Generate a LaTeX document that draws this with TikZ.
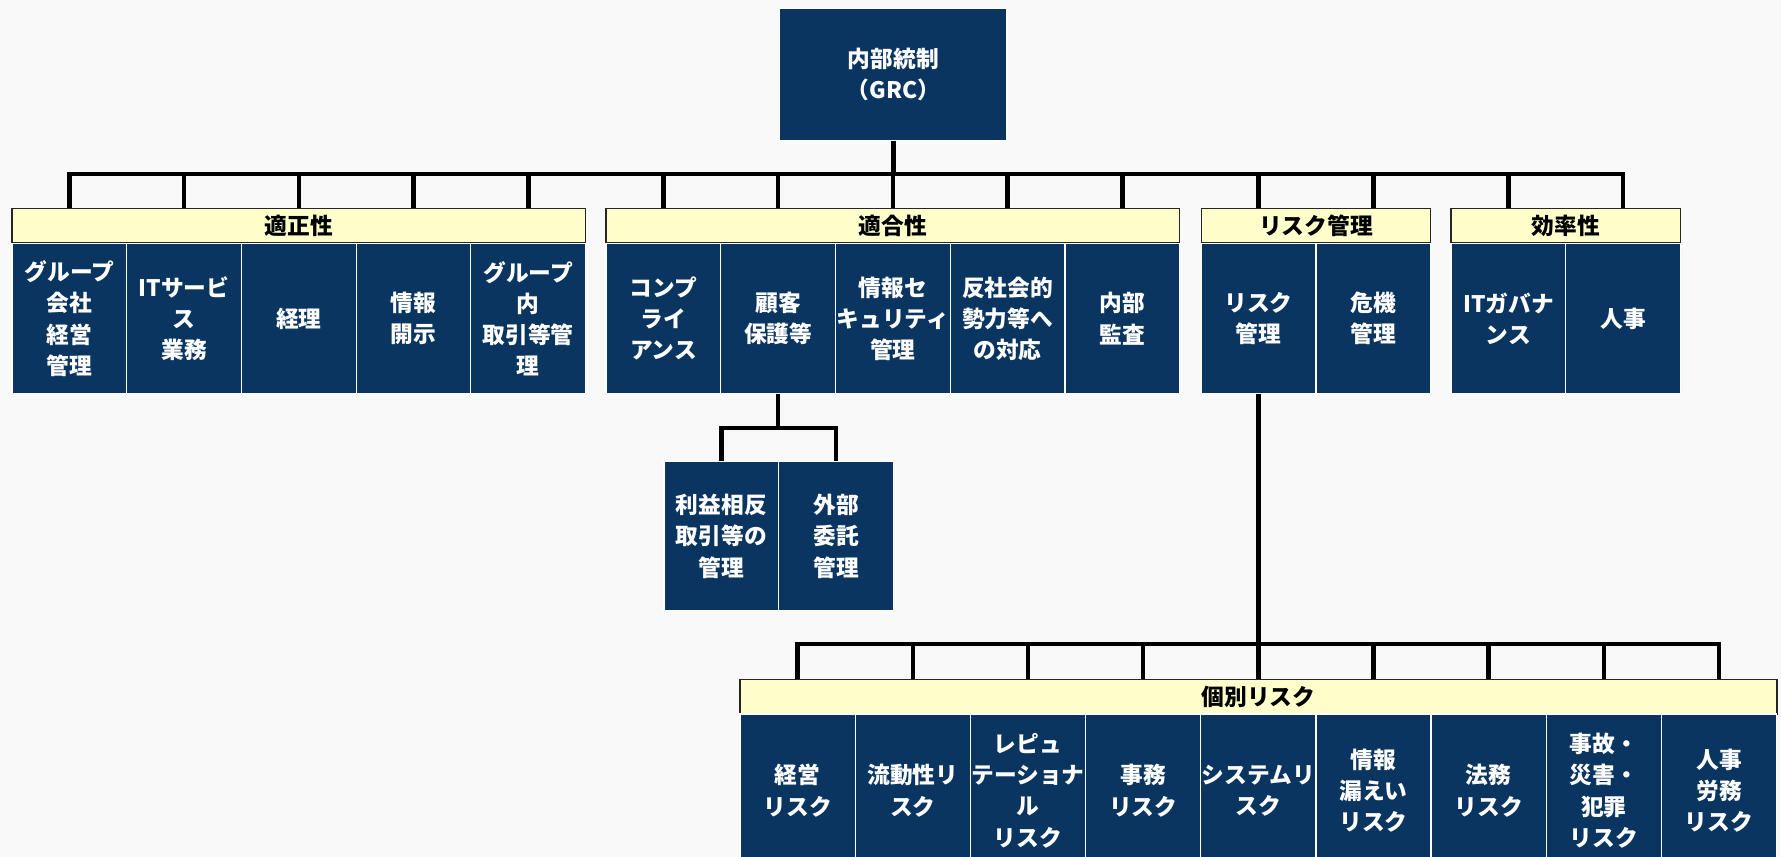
\documentclass[tikz,border=0pt]{standalone}
\usepackage{fontspec}
\setmainfont{Noto Sans CJK JP}
\definecolor{navy}{HTML}{0B3561}
\definecolor{cream}{HTML}{FFFFCC}
\definecolor{bgc}{HTML}{F9F9F9}
\tikzset{
  jpf/.style={font=\fontsize{20}{27.5}\selectfont\bfseries},
  blk/.style={jpf, fill=navy, draw=white, line width=1.1pt, minimum width=101pt,
     minimum height=132pt, inner sep=0pt, text=white, align=center, anchor=north west},
  lowblk/.style={blk, minimum width=101.4pt, minimum height=135pt},
  subblk/.style={blk, minimum height=131pt},
  barbox/.style={jpf, fill=cream, draw=black!85, line width=1.1pt, minimum height=30pt,
     inner sep=0pt, anchor=north west},
  conn/.style={line width=4pt, black, line join=miter},
}
\begin{document}
\begin{tikzpicture}[x=1pt,y=-1pt]
\path[use as bounding box, fill=bgc] (0,0) rectangle (1568,754.5);
\clip (0,0) rectangle (1568,754.5);

% top
\node[blk, minimum width=200pt, minimum height=116pt] (top) at (686,7) {内部統制\\（GRC）};

% bars
\node[barbox, minimum width=505pt] (barA) at (10,183) {適正性};
\node[barbox, minimum width=505pt] (barB) at (533,183) {適合性};
\node[barbox, minimum width=202pt] (barC) at (1057,183) {リスク管理};
\node[barbox, minimum width=202pt] (barD) at (1277,183) {効率性};

% group A
\node[blk] (a1) at (10,214) {グループ\\会社\\経営\\管理};
\node[blk] (a2) at (111,214) {ITサービ\\ス\\業務};
\node[blk] (a3) at (212,214) {経理};
\node[blk] (a4) at (313,214) {情報\\開示};
\node[blk] (a5) at (414,214) {グループ\\内\\取引等管\\理};
% group B
\node[blk] (b1) at (533,214) {コンプ\\ライ\\アンス};
\node[blk] (b2) at (634,214) {顧客\\保護等};
\node[blk] (b3) at (735,214) {情報セ\\キュリティ\\管理};
\node[blk] (b4) at (836,214) {反社会的\\勢力等へ\\の対応};
\node[blk] (b5) at (937,214) {内部\\監査};
% group C
\node[blk] (c1) at (1057,214) {リスク\\管理};
\node[blk] (c2) at (1158,214) {危機\\管理};
% group D
\node[blk] (d1) at (1277,214) {ITガバナ\\ンス};
\node[blk] (d2) at (1378,214) {人事};

% sub boxes
\node[subblk] (s1) at (584,406) {利益相反\\取引等の\\管理};
\node[subblk] (s2) at (685,406) {外部\\委託\\管理};

% lower
\node[barbox, minimum width=913pt] (barE) at (651,598) {個別リスク};
\node[lowblk] (e1) at (651,628) {経営\\リスク};
\node[lowblk] (e2) at (752.4,628) {流動性リ\\スク};
\node[lowblk] (e3) at (853.8,628) {レピュ\\テーショナ\\ル\\リスク};
\node[lowblk] (e4) at (955.2,628) {事務\\リスク};
\node[lowblk] (e5) at (1056.6,628) {システムリ\\スク};
\node[lowblk] (e6) at (1158,628) {情報\\漏えい\\リスク};
\node[lowblk] (e7) at (1259.4,628) {法務\\リスク};
\node[lowblk] (e8) at (1360.8,628) {事故・\\災害・\\犯罪\\リスク};
\node[lowblk] (e9) at (1462.2,628) {人事\\労務\\リスク};

% connectors
\coordinate (bus) at (0,153);
\coordinate (subY) at (0,377);
\coordinate (bus2) at (0,567);
\draw[conn] (top.south) -- (top.south |- bus);
\draw[conn] (a1.north |- barA.north) -- (a1.north |- bus) -- (d2.north |- bus) -- (d2.north |- barD.north);
\foreach \n in {a2,a3,a4,a5,b1,b2,b3,b4,b5,c1,c2,d1}
  \draw[conn] (\n.north |- bus) -- (\n.north |- barA.north);
\draw[conn] (b2.south) -- (b2.south |- subY);
\draw[conn] (s1.north) -- (s1.north |- subY) -- (s2.north |- subY) -- (s2.north);
\draw[conn, line width=4.8pt] (c1.south) -- (c1.south |- bus2);
\draw[conn] (e1.north |- barE.north) -- (e1.north |- bus2) -- (e9.north |- bus2) -- (e9.north |- barE.north);
\foreach \n in {e2,e3,e4,e5,e6,e7,e8}
  \draw[conn] (\n.north |- bus2) -- (\n.north |- barE.north);
\end{tikzpicture}
\end{document}
